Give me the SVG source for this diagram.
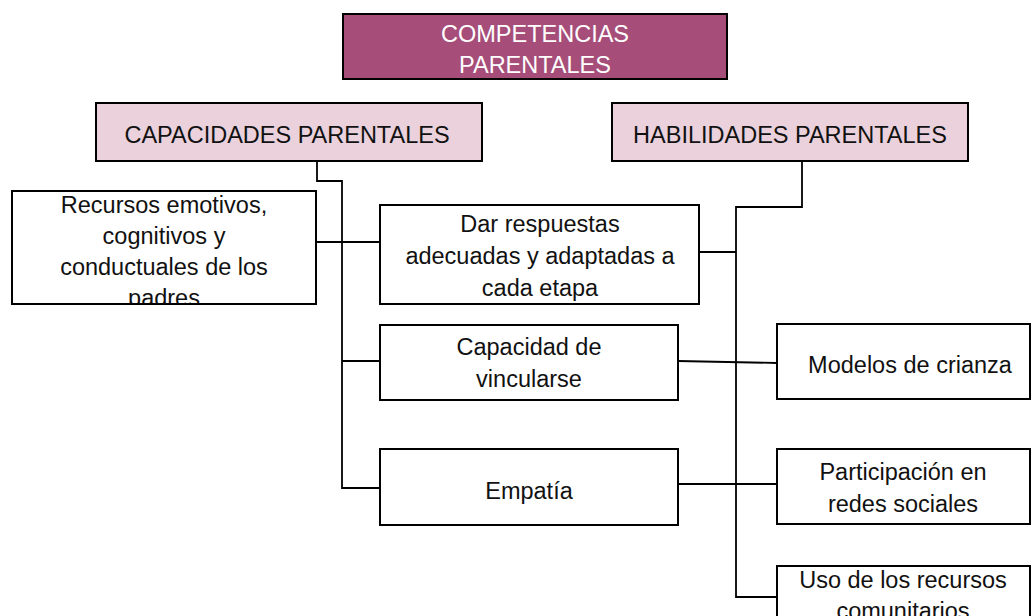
<svg xmlns="http://www.w3.org/2000/svg" width="1032" height="616" viewBox="0 0 1032 616">
<style>
.box{fill:#ffffff;stroke:#000;stroke-width:2}
.pink{fill:#EAD1DC;stroke:#000;stroke-width:2}
.top{fill:#A64D79;stroke:#000;stroke-width:2}
text{font-family:"Liberation Sans",Arial,sans-serif;font-size:23.5px;fill:#111;text-anchor:middle}
.w{fill:#ffffff}
.c{fill:none;stroke:#000;stroke-width:1.8}
</style>
<defs>
<clipPath id="clipRec"><rect x="13" y="192" width="302" height="111"/></clipPath>
</defs>
<g id="connectors">
<polyline class="c" points="317,161 317,181 342,181 342,488 380,488"/>
<line class="c" x1="342" y1="361" x2="380" y2="361"/>
<line class="c" x1="316" y1="242" x2="380" y2="242"/>
<polyline class="c" points="802,161 802,207 736,207 736,597 777,597"/>
<line class="c" x1="699" y1="252" x2="736" y2="252"/>
<line class="c" x1="678" y1="361" x2="777" y2="363"/>
<line class="c" x1="678" y1="484" x2="777" y2="484"/>
</g>
<g id="n-competencias">
<rect class="top" x="343" y="14" width="384" height="65"/>
<text class="w" x="535" y="42">COMPETENCIAS</text>
<text class="w" x="535" y="73">PARENTALES</text>
</g>
<g id="n-capacidades">
<rect class="pink" x="96" y="103" width="386" height="58"/>
<text x="287" y="143">CAPACIDADES PARENTALES</text>
</g>
<g id="n-habilidades">
<rect class="pink" x="612" y="103" width="356" height="58"/>
<text x="790" y="143">HABILIDADES PARENTALES</text>
</g>
<g id="n-recursos">
<rect class="box" x="12" y="191" width="304" height="113"/>
<g clip-path="url(#clipRec)">
<text x="164" y="213">Recursos emotivos,</text>
<text x="164" y="244">cognitivos y</text>
<text x="164" y="275">conductuales de los</text>
<text x="164" y="306">padres</text>
</g>
</g>
<g id="n-dar">
<rect class="box" x="380" y="205" width="319" height="99"/>
<text x="540" y="232">Dar respuestas</text>
<text x="540" y="264">adecuadas y adaptadas a</text>
<text x="540" y="296">cada etapa</text>
</g>
<g id="n-vincularse">
<rect class="box" x="380" y="325" width="298" height="75"/>
<text x="529" y="355">Capacidad de</text>
<text x="529" y="387">vincularse</text>
</g>
<g id="n-empatia">
<rect class="box" x="380" y="449" width="298" height="76"/>
<text x="529" y="499">Empatía</text>
</g>
<g id="n-modelos">
<rect class="box" x="777" y="324" width="253" height="75"/>
<text x="910" y="373">Modelos de crianza</text>
</g>
<g id="n-participacion">
<rect class="box" x="777" y="449" width="253" height="75"/>
<text x="903" y="480">Participación en</text>
<text x="903" y="512">redes sociales</text>
</g>
<g id="n-uso">
<rect class="box" x="777" y="566" width="253" height="70"/>
<text x="903" y="588">Uso de los recursos</text>
<text x="903" y="619">comunitarios</text>
</g>
</svg>
